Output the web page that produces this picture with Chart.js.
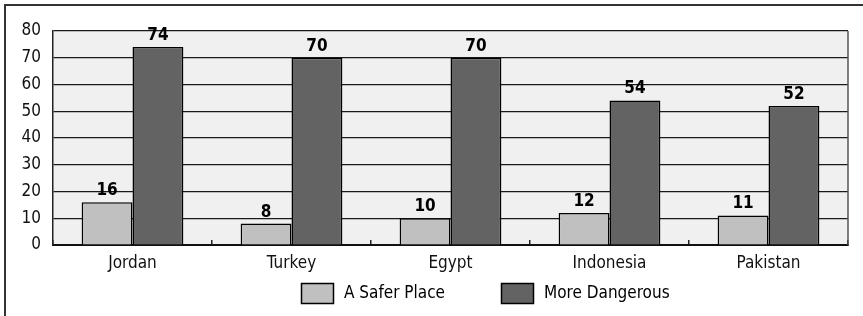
<!DOCTYPE html>
<html>
<head>
<meta charset="utf-8">
<script src="https://cdn.jsdelivr.net/npm/chart.js@4/dist/chart.umd.min.js"></script>
<style>
    html, body { margin: 0; padding: 0; background: #fff; overflow: hidden; }
    #wrap { position: relative; width: 863px; height: 316px; }
    #frame {
        position: absolute; left: 4px; top: 4px; width: 900px; height: 400px;
        border-top: 2px solid #333; border-left: 2px solid #333; pointer-events: none;
    }
</style>
</head>
<body>
<div id="wrap">
    <canvas id="chart" width="863" height="316"></canvas>
    <div id="frame"></div>
</div>
<script>
    const countries = ['Jordan', 'Turkey', 'Egypt', 'Indonesia', 'Pakistan'];
    const saferPlace = [16, 8, 10, 12, 11];
    const moreDangerous = [74, 70, 70, 54, 52];
    const yTicks = [0, 10, 20, 30, 40, 50, 60, 70, 80];

    const FONT = "'Liberation Sans Narrow', 'DejaVu Sans Condensed', sans-serif";

    // plot background and right border
    const plotBackground = {
        id: 'plotBackground',
        beforeDraw(chart) {
            const { ctx, chartArea: a } = chart;
            ctx.save();
            ctx.fillStyle = '#f0f0f0';
            ctx.fillRect(a.left, a.top, a.right - a.left, a.bottom - a.top);
            ctx.restore();
        },
        afterDraw(chart) {
            const { ctx, chartArea: a } = chart;
            ctx.save();
            ctx.strokeStyle = '#555';
            ctx.lineWidth = 1.5;
            ctx.beginPath();
            ctx.moveTo(a.right, a.top);
            ctx.lineTo(a.right, a.bottom);
            ctx.stroke();
            ctx.restore();
        },
    };

    // value labels above bars
    const valueLabels = {
        id: 'valueLabels',
        afterDatasetsDraw(chart) {
            const { ctx } = chart;
            ctx.save();
            ctx.font = 'bold 17px ' + FONT;
            ctx.fillStyle = '#000';
            ctx.textAlign = 'center';
            ctx.textBaseline = 'bottom';
            chart.data.datasets.forEach((ds, i) => {
                chart.getDatasetMeta(i).data.forEach((bar, j) => {
                    ctx.fillText(String(ds.data[j]), bar.x, bar.y - 3);
                });
            });
            ctx.restore();
        },
    };

    // legend drawn below the axis
    const bottomLegend = {
        id: 'bottomLegend',
        afterDraw(chart) {
            const { ctx, chartArea: a } = chart;
            const offsets = [248, 448];
            ctx.save();
            ctx.font = '17px ' + FONT;
            ctx.textBaseline = 'middle';
            ctx.textAlign = 'left';
            chart.data.datasets.forEach((ds, i) => {
                const x = a.left + offsets[i];
                const y = 283;
                ctx.fillStyle = ds.backgroundColor;
                ctx.fillRect(x, y, 33, 21);
                ctx.strokeStyle = '#000';
                ctx.lineWidth = 1.5;
                ctx.strokeRect(x + 0.5, y + 0.5, 32, 20);
                ctx.fillStyle = '#000';
                ctx.fillText(ds.label, x + 43, y + 11);
            });
            ctx.restore();
        },
    };

    new Chart(document.getElementById('chart'), {
        type: 'bar',
        data: {
            labels: countries,
            datasets: [
                {
                    label: 'A Safer Place',
                    data: saferPlace,
                    backgroundColor: '#c0c0c0',
                    borderColor: '#000',
                    borderWidth: 1.5,
                    borderSkipped: 'start',
                },
                {
                    label: 'More Dangerous',
                    data: moreDangerous,
                    backgroundColor: '#636363',
                    borderColor: '#000',
                    borderWidth: 1.5,
                    borderSkipped: 'start',
                },
            ],
        },
        options: {
            responsive: false,
            animation: false,
            devicePixelRatio: 1,
            layout: { padding: { left: 0, right: 15, top: 31, bottom: 0 } },
            datasets: {
                bar: { categoryPercentage: 0.64, barPercentage: 1 },
            },
            plugins: {
                legend: { display: false },
                tooltip: { enabled: false },
            },
            scales: {
                x: {
                    grid: {
                        drawOnChartArea: false,
                        drawTicks: true,
                        tickLength: -5,
                        color: '#222',
                        lineWidth: 1.5,
                    },
                    border: { color: '#111', width: 2 },
                    ticks: {
                        color: '#111',
                        font: { family: FONT, size: 17 },
                        padding: 13,
                    },
                    afterFit(scale) { scale.height = 71; },
                },
                y: {
                    min: 0,
                    max: 80,
                    afterBuildTicks(scale) {
                        scale.ticks = yTicks.map((v) => ({ value: v }));
                    },
                    grid: {
                        color: '#1a1a1a',
                        lineWidth: 1.2,
                        drawTicks: false,
                    },
                    border: { color: '#222', width: 1.5 },
                    ticks: {
                        color: '#111',
                        font: { family: FONT, size: 17 },
                        padding: 12,
                    },
                    afterFit(scale) { scale.width = 53; },
                },
            },
        },
        plugins: [plotBackground, valueLabels, bottomLegend],
    });
</script>
</body>
</html>
